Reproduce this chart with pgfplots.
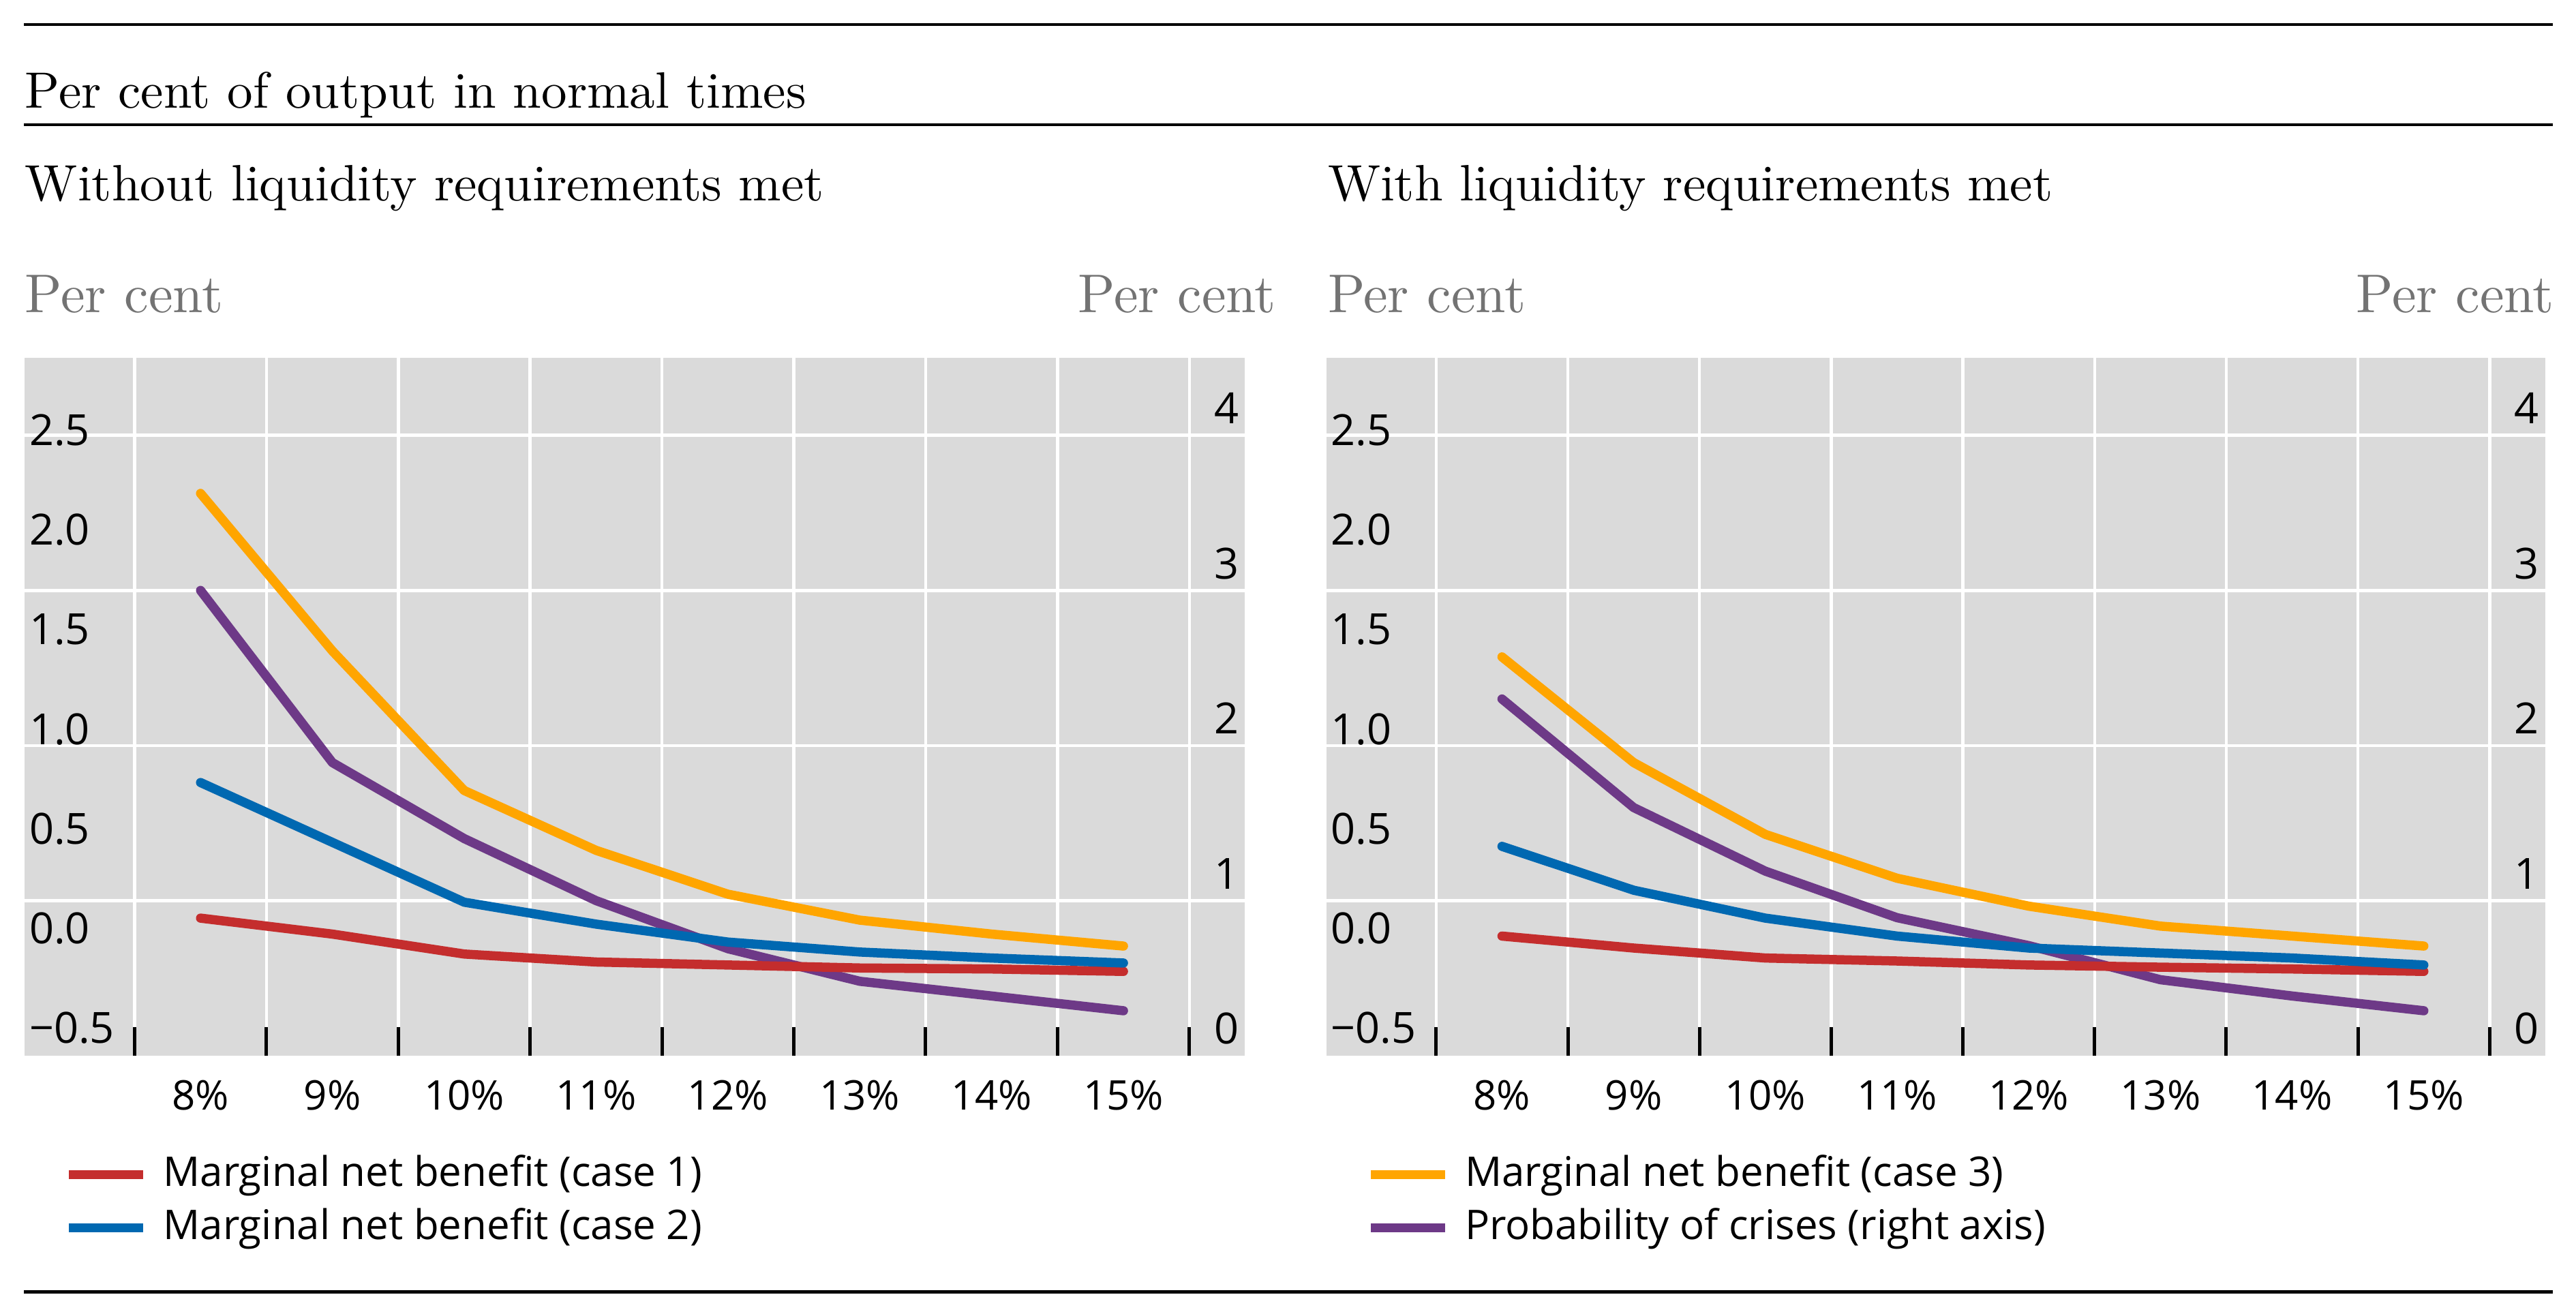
\documentclass[border=0pt]{standalone}
\usepackage{pgfplots}
\pgfplotsset{compat=1.18}
\usepackage{fontspec}
\newfontfamily\osans{Open Sans}
\newfontfamily\serifT{lmroman10-regular.otf}
\definecolor{bisred}{HTML}{C42D2D}
\definecolor{bisblue}{HTML}{0068B1}
\definecolor{bisorange}{HTML}{FFA500}
\definecolor{bispurple}{HTML}{6D3987}
\definecolor{bggray}{HTML}{DADADA}
\definecolor{labgray}{HTML}{737373}

\pgfplotsset{
  common/.style={
    scale only axis, height=204.8pt, anchor=south west,
    xmin=-1.335, xmax=7.92,
    axis line style={draw=none},
    every axis plot/.append style={line width=2.7pt, line cap=round, line join=round},
  },
  rightaxis/.style={
    common,
    ymin=0, ymax=4.5,
    axis background/.style={fill=bggray},
    xtick={-0.5,0.5,...,7.5}, xticklabels={},
    xmajorgrids, ymajorgrids,
    grid style={white, line width=0.9pt},
    tick align=inside, xtick pos=left,
    major tick length=8.4pt,
    xtick style={black, line width=1pt},
    ytick={1,2,3,4}, yticklabels={1,2,3,4},
    ytick style={draw=none},
    extra y ticks={0}, extra y tick labels={0},
    extra y tick style={grid=none, major tick length=0pt},
    yticklabel pos=right,
    yticklabel style={anchor=base east, xshift=-1.6pt, yshift=3.4pt, inner sep=0pt,
      font=\osans\fontsize{12.6}{14}\selectfont},
  },
  leftaxis/.style={
    common,
    ymin=-0.5, ymax=3.0,
    xtick={0,...,7}, xticklabels={8\%,9\%,10\%,11\%,12\%,13\%,14\%,15\%},
    major tick length=0pt, tick style={draw=none},
    ytick={-0.5,0,0.5,1,1.5,2,2.5},
    yticklabels={−0.5,0.0,0.5,1.0,1.5,2.0,2.5},
    yticklabel style={anchor=base west, xshift=1.2pt, yshift=3.6pt, inner sep=0pt,
      font=\osans\fontsize{12.6}{14}\selectfont},
    xticklabel style={anchor=base, yshift=-16pt, inner sep=0pt,
      font=\osans\fontsize{12}{14}\selectfont},
    legend style={at={(0,0)}, anchor=north west, xshift=11.6pt, yshift=-28.2pt,
      draw=none, fill=none, inner sep=0pt, row sep=2.6pt, column sep=4.5pt,
      nodes={inner sep=0pt, text height=10pt, text depth=3pt,
        font=\osans\fontsize{12}{14}\selectfont}},
    legend cell align=left,
    legend image code/.code={\draw[line width=2.6pt, line cap=butt] (0pt,0pt) -- (21.8pt,0pt);},
  },
}

\begin{document}
\begin{tikzpicture}
\useasboundingbox (0,0) rectangle (755.8pt,385pt);

% rules and headings
\draw[line width=0.86pt] (7pt,377.8pt) -- (749pt,377.8pt);
\draw[line width=0.86pt] (7pt,348.4pt) -- (749pt,348.4pt);
\draw[line width=0.86pt] (7pt,5.9pt) -- (749pt,5.9pt);
\node[anchor=base west, inner sep=0pt] at (7.2pt,353.2pt) {\serifT\fontsize{15}{18}\selectfont Per cent of output in normal times};
\node[anchor=base west, inner sep=0pt] at (7.2pt,326.1pt) {\serifT\fontsize{15}{18}\selectfont Without liquidity requirements met};
\node[anchor=base west, inner sep=0pt] at (389.4pt,326.1pt) {\serifT\fontsize{15}{18}\selectfont With liquidity requirements met};
\node[anchor=base west, inner sep=0pt, text=labgray] at (7.2pt,293.2pt) {\serifT\fontsize{16}{19}\selectfont Per cent};
\node[anchor=base east, inner sep=0pt, text=labgray] at (374.6pt,293.2pt) {\serifT\fontsize{16}{19}\selectfont Per cent};
\node[anchor=base west, inner sep=0pt, text=labgray] at (389.4pt,293.2pt) {\serifT\fontsize{16}{19}\selectfont Per cent};
\node[anchor=base east, inner sep=0pt, text=labgray] at (749.6pt,293.2pt) {\serifT\fontsize{16}{19}\selectfont Per cent};

% ---------- Left panel ----------
\begin{axis}[rightaxis, at={(7.2pt,75.2pt)}, width=358pt]
\addplot[bispurple] coordinates {(0,3.00) (1,1.89) (2,1.40) (3,1.00) (4,0.69) (5,0.48) (6,0.385) (7,0.29)};
\end{axis}
\begin{axis}[leftaxis, at={(7.2pt,75.2pt)}, width=358pt]
\addplot[bisred] coordinates {(0,0.19) (1,0.11) (2,0.01) (3,-0.03) (4,-0.045) (5,-0.06) (6,-0.065) (7,-0.077)};
\addlegendentry{Marginal net benefit (case 1)}
\addplot[bisblue] coordinates {(0,0.87) (1,0.57) (2,0.27) (3,0.16) (4,0.07) (5,0.02) (6,-0.01) (7,-0.035)};
\addlegendentry{Marginal net benefit (case 2)}
\addplot[bisorange, forget plot] coordinates {(0,2.32) (1,1.53) (2,0.83) (3,0.53) (4,0.31) (5,0.18) (6,0.11) (7,0.05)};
\end{axis}

% ---------- Right panel ----------
\begin{axis}[rightaxis, at={(389.1pt,75.2pt)}, width=357.6pt]
\addplot[bispurple] coordinates {(0,2.30) (1,1.60) (2,1.19) (3,0.89) (4,0.71) (5,0.49) (6,0.385) (7,0.29)};
\end{axis}
\begin{axis}[leftaxis, at={(389.1pt,75.2pt)}, width=357.6pt]
\addplot[bisred, forget plot] coordinates {(0,0.10) (1,0.04) (2,-0.01) (3,-0.025) (4,-0.045) (5,-0.056) (6,-0.065) (7,-0.077)};
\addplot[bisblue, forget plot] coordinates {(0,0.55) (1,0.33) (2,0.19) (3,0.10) (4,0.04) (5,0.015) (6,-0.01) (7,-0.045)};
\addplot[bisorange] coordinates {(0,1.50) (1,0.97) (2,0.61) (3,0.39) (4,0.25) (5,0.15) (6,0.10) (7,0.05)};
\addlegendentry{Marginal net benefit (case 3)}
\addlegendimage{bispurple}
\addlegendentry{Probability of crises (right axis)}
\end{axis}
\end{tikzpicture}
\end{document}
